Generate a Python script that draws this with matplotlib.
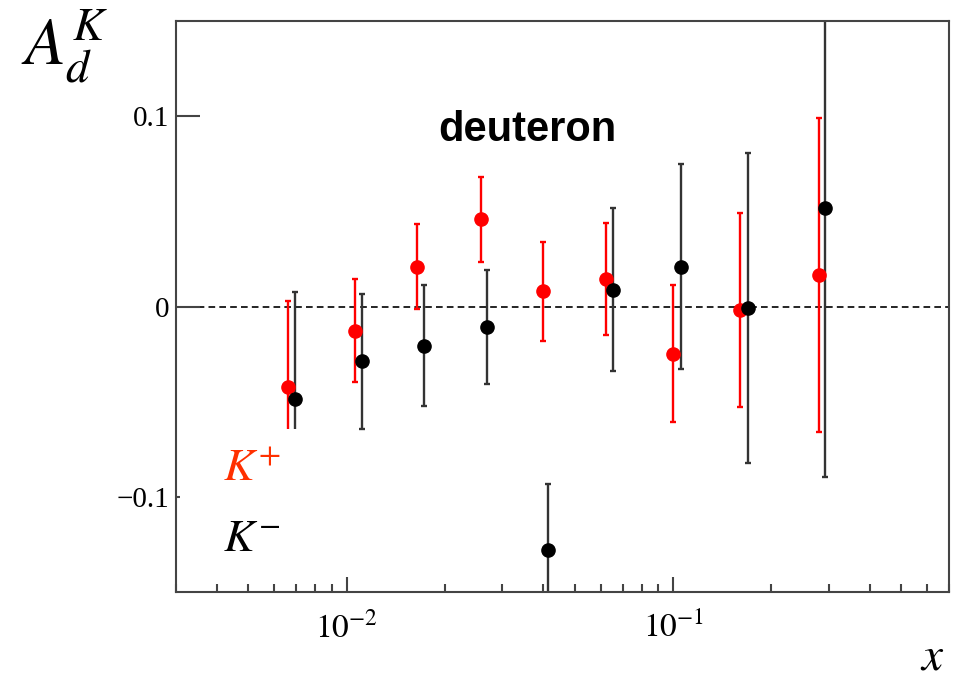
import matplotlib
matplotlib.use("Agg")
import matplotlib.pyplot as plt
from matplotlib.patches import Rectangle
from matplotlib.ticker import FixedLocator, NullFormatter

plt.rcParams['mathtext.fontset'] = 'stix'

# K+ (red)
x_kp = [0.00662, 0.0106, 0.0164, 0.0257, 0.0398, 0.0622, 0.0998, 0.160, 0.279]
a_kp = [-0.042, -0.0126, 0.021, 0.0458, 0.0081, 0.0146, -0.0249, -0.0018, 0.0168]
e_kp = [0.045, 0.027, 0.0225, 0.0225, 0.026, 0.0295, 0.036, 0.051, 0.0825]

# K- (black)
x_km = [0.00695, 0.0111, 0.0172, 0.0269, 0.0415, 0.0656, 0.1054, 0.169, 0.292]
a_km = [-0.0484, -0.0288, -0.0205, -0.0109, -0.128, 0.0089, 0.021, -0.0007, 0.0519]
e_km = [0.056, 0.0355, 0.032, 0.030, 0.035, 0.043, 0.054, 0.0816, 0.1414]

y_ticks = [-0.1, 0, 0.1]
y_labels = ["\u22120.1", "0", "0.1"]
x_ticks = [0.01, 0.1]
x_labels = [r"$10^{-2}$", r"$10^{-1}$"]

fig = plt.figure(figsize=(9.62, 6.84), dpi=100)
ax = fig.add_axes([0.183, 0.1345, 0.8035, 0.8345])

ax.set_xscale('log')
ax.set_xlim(0.003, 0.7)
ax.set_ylim(-0.15, 0.15)

ax.axhline(0, color='black', lw=1.2, dashes=(4, 2.5), zorder=1)

ax.errorbar(x_kp, a_kp, yerr=e_kp, fmt='o', color='#ff0000', ms=9.5,
            elinewidth=1.7, capsize=2.5, capthick=1.7, zorder=2)
ax.errorbar(x_km, a_km, yerr=e_km, fmt='o', color='black', ecolor='#333333',
            ms=9.5, elinewidth=1.7, capsize=2.5, capthick=1.7, zorder=2)

# white legend box hiding the bar ends, like the original
ax.add_patch(Rectangle((0.005, 0.04), 0.165, 0.245, transform=ax.transAxes,
                       facecolor='white', edgecolor='none', zorder=3))

for s in ax.spines.values():
    s.set_color('#444444')
    s.set_linewidth(1.5)
    s.set_zorder(4)

ax.yaxis.set_major_locator(FixedLocator(y_ticks))
ax.set_yticklabels(y_labels, fontfamily='Liberation Serif', fontsize=21)
ax.yaxis.set_minor_locator(FixedLocator([]))
ax.tick_params(axis='y', which='major', direction='in', length=17, width=1.5,
               color='#444444', pad=5, left=True, right=False)

ax.xaxis.set_major_locator(FixedLocator(x_ticks))
ax.set_xticklabels(x_labels, fontsize=24)
ax.xaxis.set_minor_formatter(NullFormatter())
ax.tick_params(axis='x', which='major', direction='in', length=11, width=1.5,
               color='#444444', pad=14)
ax.tick_params(axis='x', which='minor', direction='in', length=6, width=1.5,
               color='#444444')

ax.text(0.455, 0.81, "deuteron", transform=ax.transAxes, ha='center', va='center',
        fontfamily='Liberation Sans', fontweight='bold', fontsize=30)

fig.text(0.022, 0.932, r"$A_d^K$", fontsize=48, ha='left', va='center')
fig.text(0.232, 0.315, r"$K^{+}$", fontsize=33, color='#ff3000', ha='left', va='center')
fig.text(0.232, 0.212, r"$K^{-}$", fontsize=33, color='black', ha='left', va='center')
fig.text(0.982, 0.006, r"$x$", fontsize=34, ha='right', va='bottom')

fig.savefig("out.png", dpi=100)
